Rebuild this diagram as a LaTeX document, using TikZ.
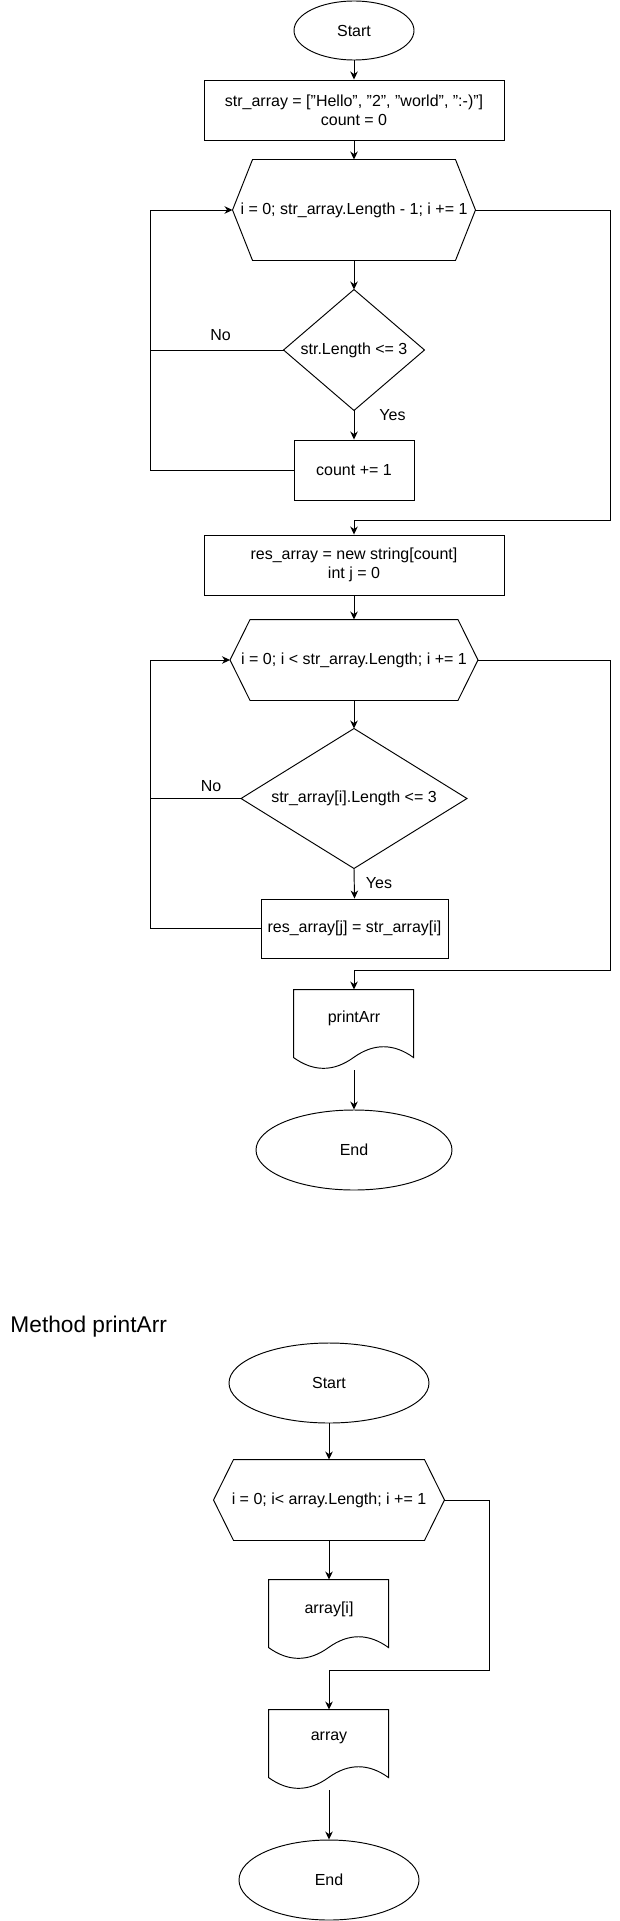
\documentclass[tikz,border=0pt]{standalone}
\usepackage{fontspec}
\setmainfont{Liberation Sans}
\usetikzlibrary{shapes.geometric,arrows.meta,calc}
\newcommand\hexout[2]{\draw ([xshift=#2]#1.north west) -- ([xshift=-#2]#1.north east) -- (#1.east) -- ([xshift=-#2]#1.south east) -- ([xshift=#2]#1.south west) -- (#1.west) -- cycle;}
\newcommand\diaout[1]{\draw (#1.north) -- (#1.east) -- (#1.south) -- (#1.west) -- cycle;}
\newcommand\docout[1]{\draw[shift={(#1.north west)}] (0,0) -- (120,0) -- (120,68) .. controls (100,53.6) and (80,53.6) .. (60,68) .. controls (40,82.4) and (20,82.4) .. (0,68) -- cycle;}
\tikzset{
  base/.style={inner sep=0pt, font=\fontsize{16}{19.3}\selectfont, align=center},
  boxn/.style={base, draw, rectangle},
  ovaln/.style={base, draw, ellipse},
  shapebox/.style={base, rectangle},
  lbl/.style={base},
  arr/.style={-{Stealth[length=8pt,width=7.5pt,inset=2.5pt]}}
}
\begin{document}
\begin{tikzpicture}[x=1pt,y=-1pt,line width=0.95pt]
\useasboundingbox (0,0) rectangle (619,1921);
% ---------- main flow ----------
\node[ovaln, minimum width=120pt, minimum height=59pt] (s1) at (354,30.5) {Start};
\node[boxn, minimum width=300pt, minimum height=60pt] (b1) at (354,110) {str\_array = ["Hello", "2", "world", ":-)"]\\count = 0};
\node[shapebox, minimum width=242pt, minimum height=100pt] (h1) at (354,210) {i = 0; str\_array.Length - 1; i += 1};
\hexout{h1}{20pt}
\node[shapebox, minimum width=140pt, minimum height=120pt] (d1) at (354,350) {str.Length <= 3};
\diaout{d1}
\node[boxn, minimum width=120pt, minimum height=60pt] (c1) at (354,470) {count += 1};
\node[boxn, minimum width=300pt, minimum height=60pt] (b2) at (354,565) {res\_array = new string[count]\\int j = 0};
\node[shapebox, minimum width=247pt, minimum height=80pt] (h2) at (354,660) {i = 0; i < str\_array.Length; i += 1};
\hexout{h2}{20pt}
\node[shapebox, minimum width=225pt, minimum height=139pt] (d2) at (354,798.5) {str\_array[i].Length <= 3};
\diaout{d2}
\node[boxn, minimum width=187pt, minimum height=59pt] (b3) at (354.5,928.5) {res\_array[j] = str\_array[i]};
\node[shapebox, minimum width=120pt, minimum height=80pt] (p1) at (354,1030) {};
\docout{p1}
\node[lbl] (p1t) at (354,1018) {printArr};
\node[ovaln, minimum width=196pt, minimum height=80pt] (e1) at (354,1150) {End};
\node[lbl] (no1) at (220.5,335) {No};
\node[lbl] (yes1) at (392.5,415) {Yes};
\node[lbl] (no2) at (211,786) {No};
\node[lbl] (yes2) at (379,883) {Yes};
\coordinate (lx) at (150,0);
\coordinate (j1) at (610,520);
\coordinate (j2) at (610,970);
\draw[arr] (s1.south) -- (b1.north);
\draw[arr] (b1.south) -- (h1.north);
\draw[arr] (h1.south) -- (d1.north);
\draw[arr] (d1.south) -- (c1.north);
\draw (d1.west) -- (d1.west -| lx);
\draw[arr] (c1.west) -- (c1.west -| lx) |- (h1.west);
\draw[arr] (h1.east) -| (j1) -| (b2.north);
\draw[arr] (b2.south) -- (h2.north);
\draw[arr] (h2.south) -- (d2.north);
\draw[arr] (d2.south) -- (b3.north);
\draw (d2.west) -- (d2.west -| lx);
\draw[arr] (b3.west) -- (b3.west -| lx) |- (h2.west);
\draw[arr] (h2.east) -| (j2) -| (p1.north);
\draw[arr] (p1.south) -- (e1.north);
% ---------- method printArr ----------
\node[lbl, font=\fontsize{22.7}{27}\selectfont, anchor=base west] (title) at (10,1332) {Method printArr};
\node[ovaln, minimum width=200pt, minimum height=80pt] (s2) at (329,1383) {Start};
\node[shapebox, minimum width=230pt, minimum height=80pt] (h3) at (329,1500) {i = 0; i< array.Length; i += 1};
\hexout{h3}{20pt}
\node[shapebox, minimum width=120pt, minimum height=80pt] (a1) at (329,1620) {};
\docout{a1}
\node[lbl] (a1t) at (329,1609) {array[i]};
\node[shapebox, minimum width=120pt, minimum height=80pt] (a2) at (329,1750) {};
\docout{a2}
\node[lbl] (a2t) at (329,1738) {array};
\node[ovaln, minimum width=180pt, minimum height=80pt] (e2) at (329,1880) {End};
\coordinate (j3) at (489,1670);
\draw[arr] (s2.south) -- (h3.north);
\draw[arr] (h3.south) -- (a1.north);
\draw[arr] (h3.east) -| (j3) -| (a2.north);
\draw[arr] (a2.south) -- (e2.north);
\end{tikzpicture}
\end{document}
